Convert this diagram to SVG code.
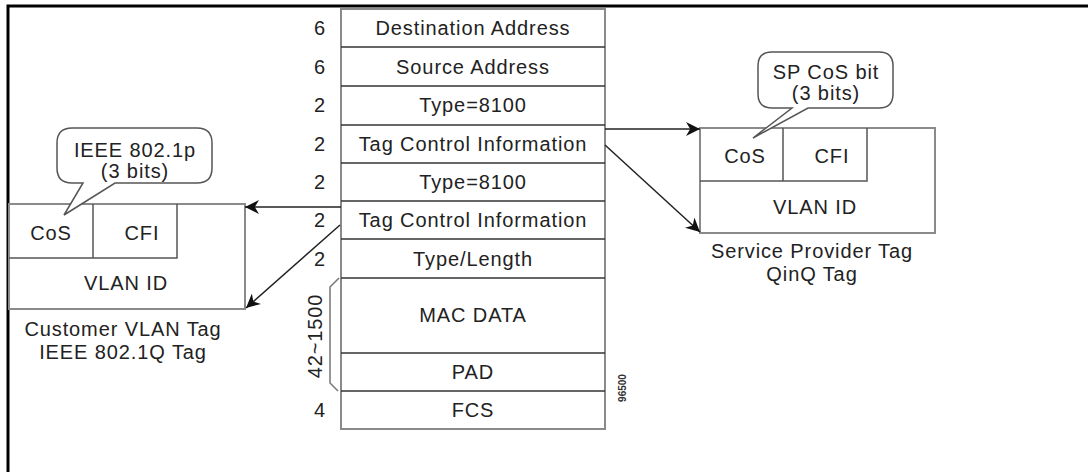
<svg xmlns="http://www.w3.org/2000/svg" width="1088" height="472" viewBox="0 0 1088 472">
<defs>
<style>
text{font-family:"Liberation Sans",Arial,sans-serif;font-size:20px;fill:#222;letter-spacing:0.9px;text-anchor:middle}
.box{fill:#fff;stroke:#8a8a8a;stroke-width:2}
.cell{fill:none;stroke:#555;stroke-width:1.5}
.sep{stroke:#333;stroke-width:1.6}
.conn{stroke:#222;stroke-width:1.5;fill:none;marker-end:url(#ah)}
.bub{fill:#fff;stroke:#555;stroke-width:1.5}
</style>
<marker id="ah" viewBox="0 0 10 10" refX="10" refY="5" markerWidth="14" markerHeight="14" markerUnits="userSpaceOnUse" orient="auto">
<path d="M0,0 L10,5 L0,10 L3,5 Z" fill="#111"/>
</marker>
</defs>
<rect width="1088" height="472" fill="#fff"/>
<path d="M8,472 V6 H1088" fill="none" stroke="#000" stroke-width="3"/>

<g id="frame">
<rect x="341" y="9" width="264" height="420" class="box"/>
<line x1="341" y1="47" x2="605" y2="47" class="sep"/>
<line x1="341" y1="86" x2="605" y2="86" class="sep"/>
<line x1="341" y1="125" x2="605" y2="125" class="sep"/>
<line x1="341" y1="163" x2="605" y2="163" class="sep"/>
<line x1="341" y1="201" x2="605" y2="201" class="sep"/>
<line x1="341" y1="239" x2="605" y2="239" class="sep"/>
<line x1="341" y1="278" x2="605" y2="278" class="sep"/>
<line x1="341" y1="353" x2="605" y2="353" class="sep"/>
<line x1="341" y1="391" x2="605" y2="391" class="sep"/>
<text x="473" y="35">Destination Address</text>
<text x="473" y="74">Source Address</text>
<text x="473" y="112">Type=8100</text>
<text x="473" y="151">Tag Control Information</text>
<text x="473" y="189">Type=8100</text>
<text x="473" y="227">Tag Control Information</text>
<text x="473" y="266">Type/Length</text>
<text x="473" y="322">MAC DATA</text>
<text x="473" y="379">PAD</text>
<text x="473" y="417">FCS</text>
<text x="320" y="35">6</text>
<text x="320" y="74">6</text>
<text x="320" y="112">2</text>
<text x="320" y="151">2</text>
<text x="320" y="189">2</text>
<text x="320" y="227">2</text>
<text x="320" y="266">2</text>
<text x="320" y="417">4</text>
<path d="M339,278 L330,287 V383 L338,391" fill="none" stroke="#777" stroke-width="1.5"/>
<text transform="translate(322,336) rotate(-90)">42~1500</text>
<text transform="translate(626,388) rotate(-90)" style="font-size:10px;letter-spacing:0;font-weight:bold;fill:#333">96500</text>
</g>

<g id="customer-tag">
<rect x="9" y="204" width="236" height="105" class="box"/>
<path d="M9,258 H177 V204 M93,204 V258" class="cell"/>
<text x="51" y="240">CoS</text>
<text x="142" y="240">CFI</text>
<text x="126" y="290">VLAN ID</text>
<text x="123" y="336">Customer VLAN Tag</text>
<text x="123" y="359">IEEE 802.1Q Tag</text>
</g>

<g id="customer-bubble">
<path d="M72,128 H197 Q212,128 212,143 V168 Q212,183 197,183 H115 L64,215 L83,183 H72 Q57,183 57,168 V143 Q57,128 72,128 Z" class="bub"/>
<text x="135" y="157">IEEE 802.1p</text>
<text x="135" y="178">(3 bits)</text>
</g>

<g id="provider-tag">
<rect x="700" y="128" width="235" height="105" class="box"/>
<path d="M700,181 H867 V128 M783,128 V181" class="cell"/>
<text x="745" y="163">CoS</text>
<text x="832" y="163">CFI</text>
<text x="815" y="214">VLAN ID</text>
<text x="812" y="258">Service Provider Tag</text>
<text x="812" y="281">QinQ Tag</text>
</g>

<g id="provider-bubble">
<path d="M772,52 H879 Q893,52 893,66 V94 Q893,108 879,108 H808 L753,138 L792,108 H772 Q758,108 758,94 V66 Q758,52 772,52 Z" class="bub"/>
<text x="826" y="79">SP CoS bit</text>
<text x="826" y="100">(3 bits)</text>
</g>

<g id="connectors">
<line x1="605" y1="129" x2="700" y2="129" class="conn"/>
<line x1="605" y1="145" x2="700" y2="232" class="conn"/>
<line x1="341" y1="207" x2="245" y2="207" class="conn"/>
<line x1="340" y1="225" x2="246" y2="308" class="conn"/>
</g>
</svg>
